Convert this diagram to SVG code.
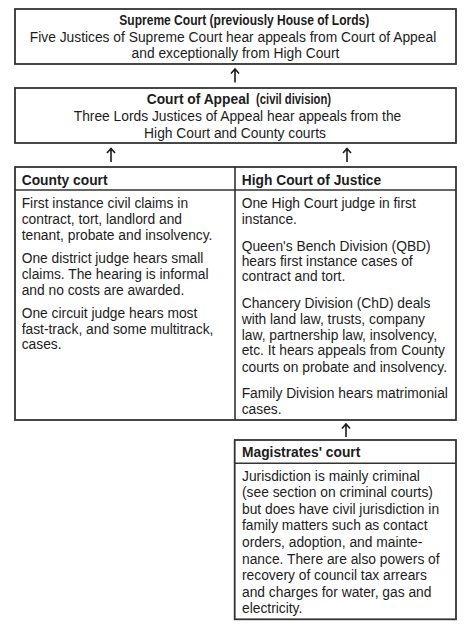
<svg xmlns="http://www.w3.org/2000/svg" width="474" height="629" viewBox="0 0 474 629">
<style>
.box{fill:#fff;stroke:#333;stroke-width:1.8}
.ln{stroke:#333;stroke-width:1.6;fill:none}
text{font-family:"Liberation Sans",Arial,sans-serif;font-size:13.8px;fill:#1c1c1c}
.b{font-weight:bold}
.c{text-anchor:middle}
.arr{stroke:#1c1c1c;stroke-width:1.6;fill:none}
</style>
<rect width="474" height="629" fill="#fff"/>
<g id="supreme-court">
<rect class="box" x="15" y="9" width="441" height="55"/>
<text class="b" x="119.3" y="25" font-size="13.5" textLength="250" lengthAdjust="spacingAndGlyphs">Supreme Court (previously House of Lords)</text>
<text class="c" x="233" y="41.5">Five Justices of Supreme Court hear appeals from Court of Appeal</text>
<text class="c" x="235.5" y="57.5">and exceptionally from High Court</text>
</g>
<g id="court-of-appeal">
<rect class="box" x="15" y="88" width="441" height="55"/>
<text class="b" x="146.7" y="104">Court of Appeal</text>
<text class="b" x="256" y="104" font-size="12" textLength="75" lengthAdjust="spacingAndGlyphs">(civil division)</text>
<text class="c" x="237.5" y="121">Three Lords Justices of Appeal hear appeals from the</text>
<text class="c" x="235" y="137.5">High Court and County courts</text>
</g>
<g id="table">
<rect class="box" x="15" y="167" width="441" height="253"/>
<line class="ln" x1="15" y1="190" x2="456" y2="190"/>
<line class="ln" x1="235" y1="167" x2="235" y2="420"/>
</g>
<g id="county-court">
<text class="b" x="21.7" y="185">County court</text>
<text x="21.7" y="207.5">First instance civil claims in</text>
<text x="21.7" y="223.5">contract, tort, landlord and</text>
<text x="21.7" y="239.5">tenant, probate and insolvency.</text>
<text x="21.7" y="262.8">One district judge hears small</text>
<text x="21.7" y="278.5">claims. The hearing is informal</text>
<text x="21.7" y="294.5">and no costs are awarded.</text>
<text x="21.7" y="317.8">One circuit judge hears most</text>
<text x="21.7" y="333.5">fast-track, and some multitrack,</text>
<text x="21.7" y="349">cases.</text>
</g>
<g id="high-court">
<text class="b" x="241.7" y="185">High Court of Justice</text>
<text x="241.7" y="207.8">One High Court judge in first</text>
<text x="241.7" y="223.8">instance.</text>
<text x="241.7" y="250.5">Queen's Bench Division (QBD)</text>
<text x="241.7" y="265.7">hears first instance cases of</text>
<text x="241.7" y="281.2">contract and tort.</text>
<text x="241.7" y="307.8">Chancery Division (ChD) deals</text>
<text x="241.7" y="323.8">with land law, trusts, company</text>
<text x="241.7" y="339.5">law, partnership law, insolvency,</text>
<text x="241.7" y="355.2">etc. It hears appeals from County</text>
<text x="241.7" y="371.5">courts on probate and insolvency.</text>
<text x="241.7" y="397.8">Family Division hears matrimonial</text>
<text x="241.7" y="413.8">cases.</text>
</g>
<g id="magistrates-court">
<rect class="box" x="234.7" y="440" width="221.3" height="179.3"/>
<line class="ln" x1="234.7" y1="463.3" x2="456" y2="463.3"/>
<text class="b" x="242" y="457.2">Magistrates' court</text>
<text x="242" y="480.5">Jurisdiction is mainly criminal</text>
<text x="242" y="496.8">(see section on criminal courts)</text>
<text x="242" y="513.5">but does have civil jurisdiction in</text>
<text x="242" y="530.2">family matters such as contact</text>
<text x="242" y="546.8">orders, adoption, and mainte-</text>
<text x="242" y="563.5">nance. There are also powers of</text>
<text x="242" y="580.2">recovery of council tax arrears</text>
<text x="242" y="596.8">and charges for water, gas and</text>
<text x="242" y="612.8">electricity.</text>
</g>
<g id="connectors">
<path class="arr" d="M235 82.5V69M231 73.5L235 69L239 73.5"/>
<path class="arr" d="M111 162V148.5M107 153L111 148.5L115 153"/>
<path class="arr" d="M347 162V148.5M343 153L347 148.5L351 153"/>
<path class="arr" d="M346 437V424M342 428.5L346 424L350 428.5"/>
</g>
</svg>
